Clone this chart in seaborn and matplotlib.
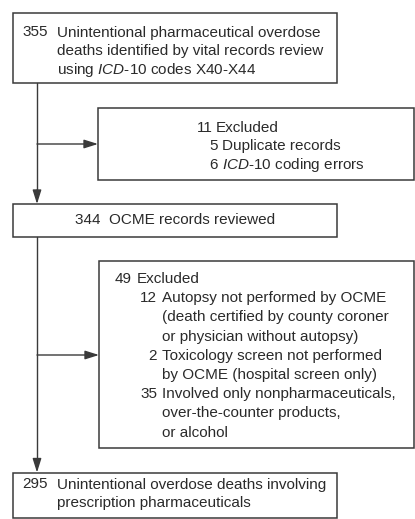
import matplotlib
matplotlib.use("Agg")
import matplotlib.pyplot as plt
import seaborn as sns
from matplotlib.patches import Rectangle

sns.set_theme(style="white")
plt.rcParams["font.family"] = ["Liberation Sans", "DejaVu Sans"]
plt.rcParams["mathtext.fontset"] = "custom"
plt.rcParams["mathtext.rm"] = "Liberation Sans"
plt.rcParams["mathtext.it"] = "Liberation Sans:italic"

# ---- data ----
total_n = 355
total_lines = ["Unintentional pharmaceutical overdose",
               "deaths identified by vital records review",
               r"using $\mathit{ICD}$-$\mathit{10}$ codes X40-X44"]
excl1_n = 11
excl1_label = "Excluded"
excl1_counts = [5, 6]
excl1_reasons = [["Duplicate records"],
                 [r"$\mathit{ICD}$-$\mathit{10}$ coding errors"]]
reviewed_n = 344
reviewed_label = "OCME records reviewed"
excl2_n = 49
excl2_label = "Excluded"
excl2_counts = [12, 2, 35]
excl2_reasons = [["Autopsy not performed by OCME",
                  "(death certified by county coroner",
                  "or physician without autopsy)"],
                 ["Toxicology screen not performed",
                  "by OCME (hospital screen only)"],
                 ["Involved only nonpharmaceuticals,",
                  "over-the-counter products,",
                  "or alcohol"]]
final_n = 295
final_lines = ["Unintentional overdose deaths involving",
               "prescription pharmaceuticals"]

W, H = 415, 519
fig = plt.figure(figsize=(W / 100, H / 100), dpi=100)
ax = fig.add_axes([0, 0, 1, 1])
ax.set_xlim(0, W)
ax.set_ylim(H, 0)
ax.axis("off")

EC = "#3a3a3a"
TC = "#2a2a2a"
FS = 11.0
LS = 18.6
LS4 = 19.2

def box(x0, y0, x1, y1):
    ax.add_patch(Rectangle((x0, y0), x1 - x0, y1 - y0, fill=False,
                           ec=EC, lw=1.1, clip_on=False))

def txt(x, y, s, ha="left"):
    ax.text(x, y, s, ha=ha, va="baseline", fontsize=FS, color=TC)

def arrow(x0, y0, x1, y1):
    ax.annotate("", xy=(x1, y1), xytext=(x0, y0),
                arrowprops=dict(arrowstyle="-|>,head_length=0.7,head_width=0.22",
                                color=EC, lw=1.0, shrinkA=0, shrinkB=0))

# connectors
ax.plot([37, 37], [83, 196], color=EC, lw=1.0)
arrow(37, 190, 37, 204)
arrow(37, 144, 98, 144)
ax.plot([37, 37], [237, 465], color=EC, lw=1.0)
arrow(37, 459, 37, 472.5)
arrow(37, 355, 99, 355)

# box 1
box(13, 13, 337, 83)
txt(22, 36.5, str(total_n))
for i, s in enumerate(total_lines):
    txt(57, 36.5 + i * LS, s)

# box 2
box(98, 108, 413.5, 180)
txt(197, 131.5, f"{excl1_n}")
txt(216, 131.5, excl1_label)
y = 131.5 + LS
for n, rs in zip(excl1_counts, excl1_reasons):
    txt(218, y, str(n), ha="right")
    for s in rs:
        txt(222, y, s)
        y += LS

# box 3
box(13, 204, 337, 237)
ax.text(175, 224, f"{reviewed_n}  {reviewed_label}", ha="center",
        va="baseline", fontsize=FS, color=TC)

# box 4
box(99, 261, 413.5, 448)
txt(115, 283, str(excl2_n))
txt(137, 283, excl2_label)
y = 283 + LS4
for n, rs in zip(excl2_counts, excl2_reasons):
    txt(157, y, str(n), ha="right")
    for s in rs:
        txt(161.5, y, s)
        y += LS4

# box 5
box(13, 472.5, 337, 517.5)
txt(22, 488.5, str(final_n))
for i, s in enumerate(final_lines):
    txt(57, 488.5 + i * LS, s)

fig.savefig("out.png", dpi=100)
